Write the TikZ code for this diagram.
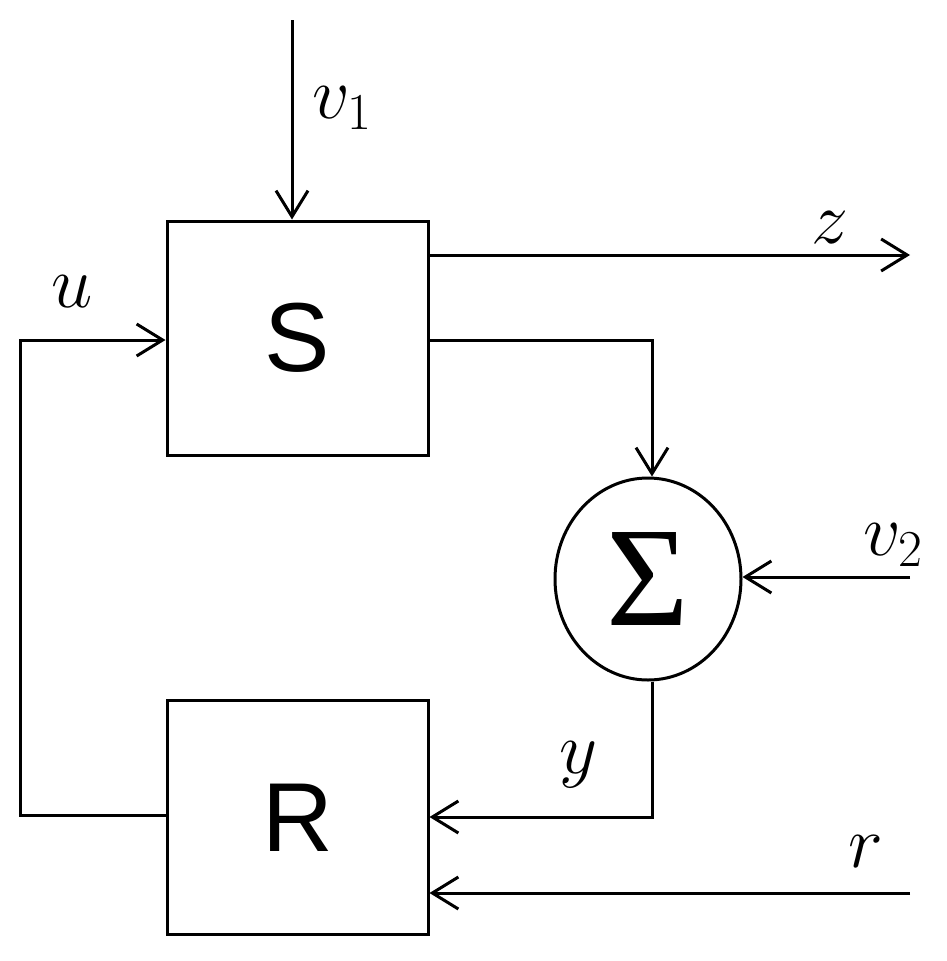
\RequirePackage{fix-cm}
\documentclass[tikz,border=0pt]{standalone}
\usepackage{fontspec}
\newfontfamily\blockfont{Liberation Sans}
\newfontfamily\sigmafont{Liberation Serif}
\usetikzlibrary{arrows.meta,shapes.geometric}
\tikzset{
  blk/.style={draw, line width=3pt, minimum width=261pt, minimum height=234pt, inner sep=0pt, font=\blockfont\fontsize{98}{100}\selectfont},
  sumnode/.style={draw, ellipse, line width=3pt, minimum width=186pt, minimum height=202pt, inner sep=0pt, font=\sigmafont\fontsize{142}{142}\selectfont},
  wire/.style={line width=3pt},
  sig/.style={wire, -{Straight Barb[length=26pt, width=32pt, line width=3pt]}},
  lbl/.style={font=\fontsize{74}{74}\selectfont, inner sep=0pt}
}
\begin{document}
\begin{tikzpicture}[x=1pt, y=-1pt]
\useasboundingbox (0,0) rectangle (947,961);
\node[blk] (S) at (297.5,338) {S};
\node[blk] (R) at (297.5,817.5) {R};
\node[sumnode] (E) at (648,579) {Σ};
\coordinate (v1s) at (292,20);
\coordinate (zend) at (910,255);
\coordinate (v2s) at (910,577);
\coordinate (rs) at (910,893);
\coordinate (sout) at (428,340);
\coordinate (scorner) at (652,340);
\coordinate (ycorner) at (652,817);
\coordinate (lc1) at (20,815);
\coordinate (lc2) at (20,340);
\draw[sig] (v1s) -- (v1s |- S.north);
\draw[sig] (S.east |- zend) -- (zend);
\draw[sig] (sout) -- (scorner) -- (scorner |- E.north);
\draw[sig] (v2s) -- (E.east |- v2s);
\draw[sig] (E.south -| ycorner) -- (ycorner) -- (R.east |- ycorner);
\draw[sig] (rs) -- (R.east |- rs);
\draw[sig] (R.west |- lc1) -- (lc1) -- (lc2) -- (S.west |- lc2);
\node[lbl] (lv1) at (342,108) {$v_1$};
\node[lbl] (lz) at (830,228) {$z$};
\node[lbl] (lu) at (72,292) {$u$};
\node[lbl] (lv2) at (893,545) {$v_2$};
\node[lbl] (ly) at (578,765) {$y$};
\node[lbl] (lr) at (866,852) {$r$};
\end{tikzpicture}
\end{document}
